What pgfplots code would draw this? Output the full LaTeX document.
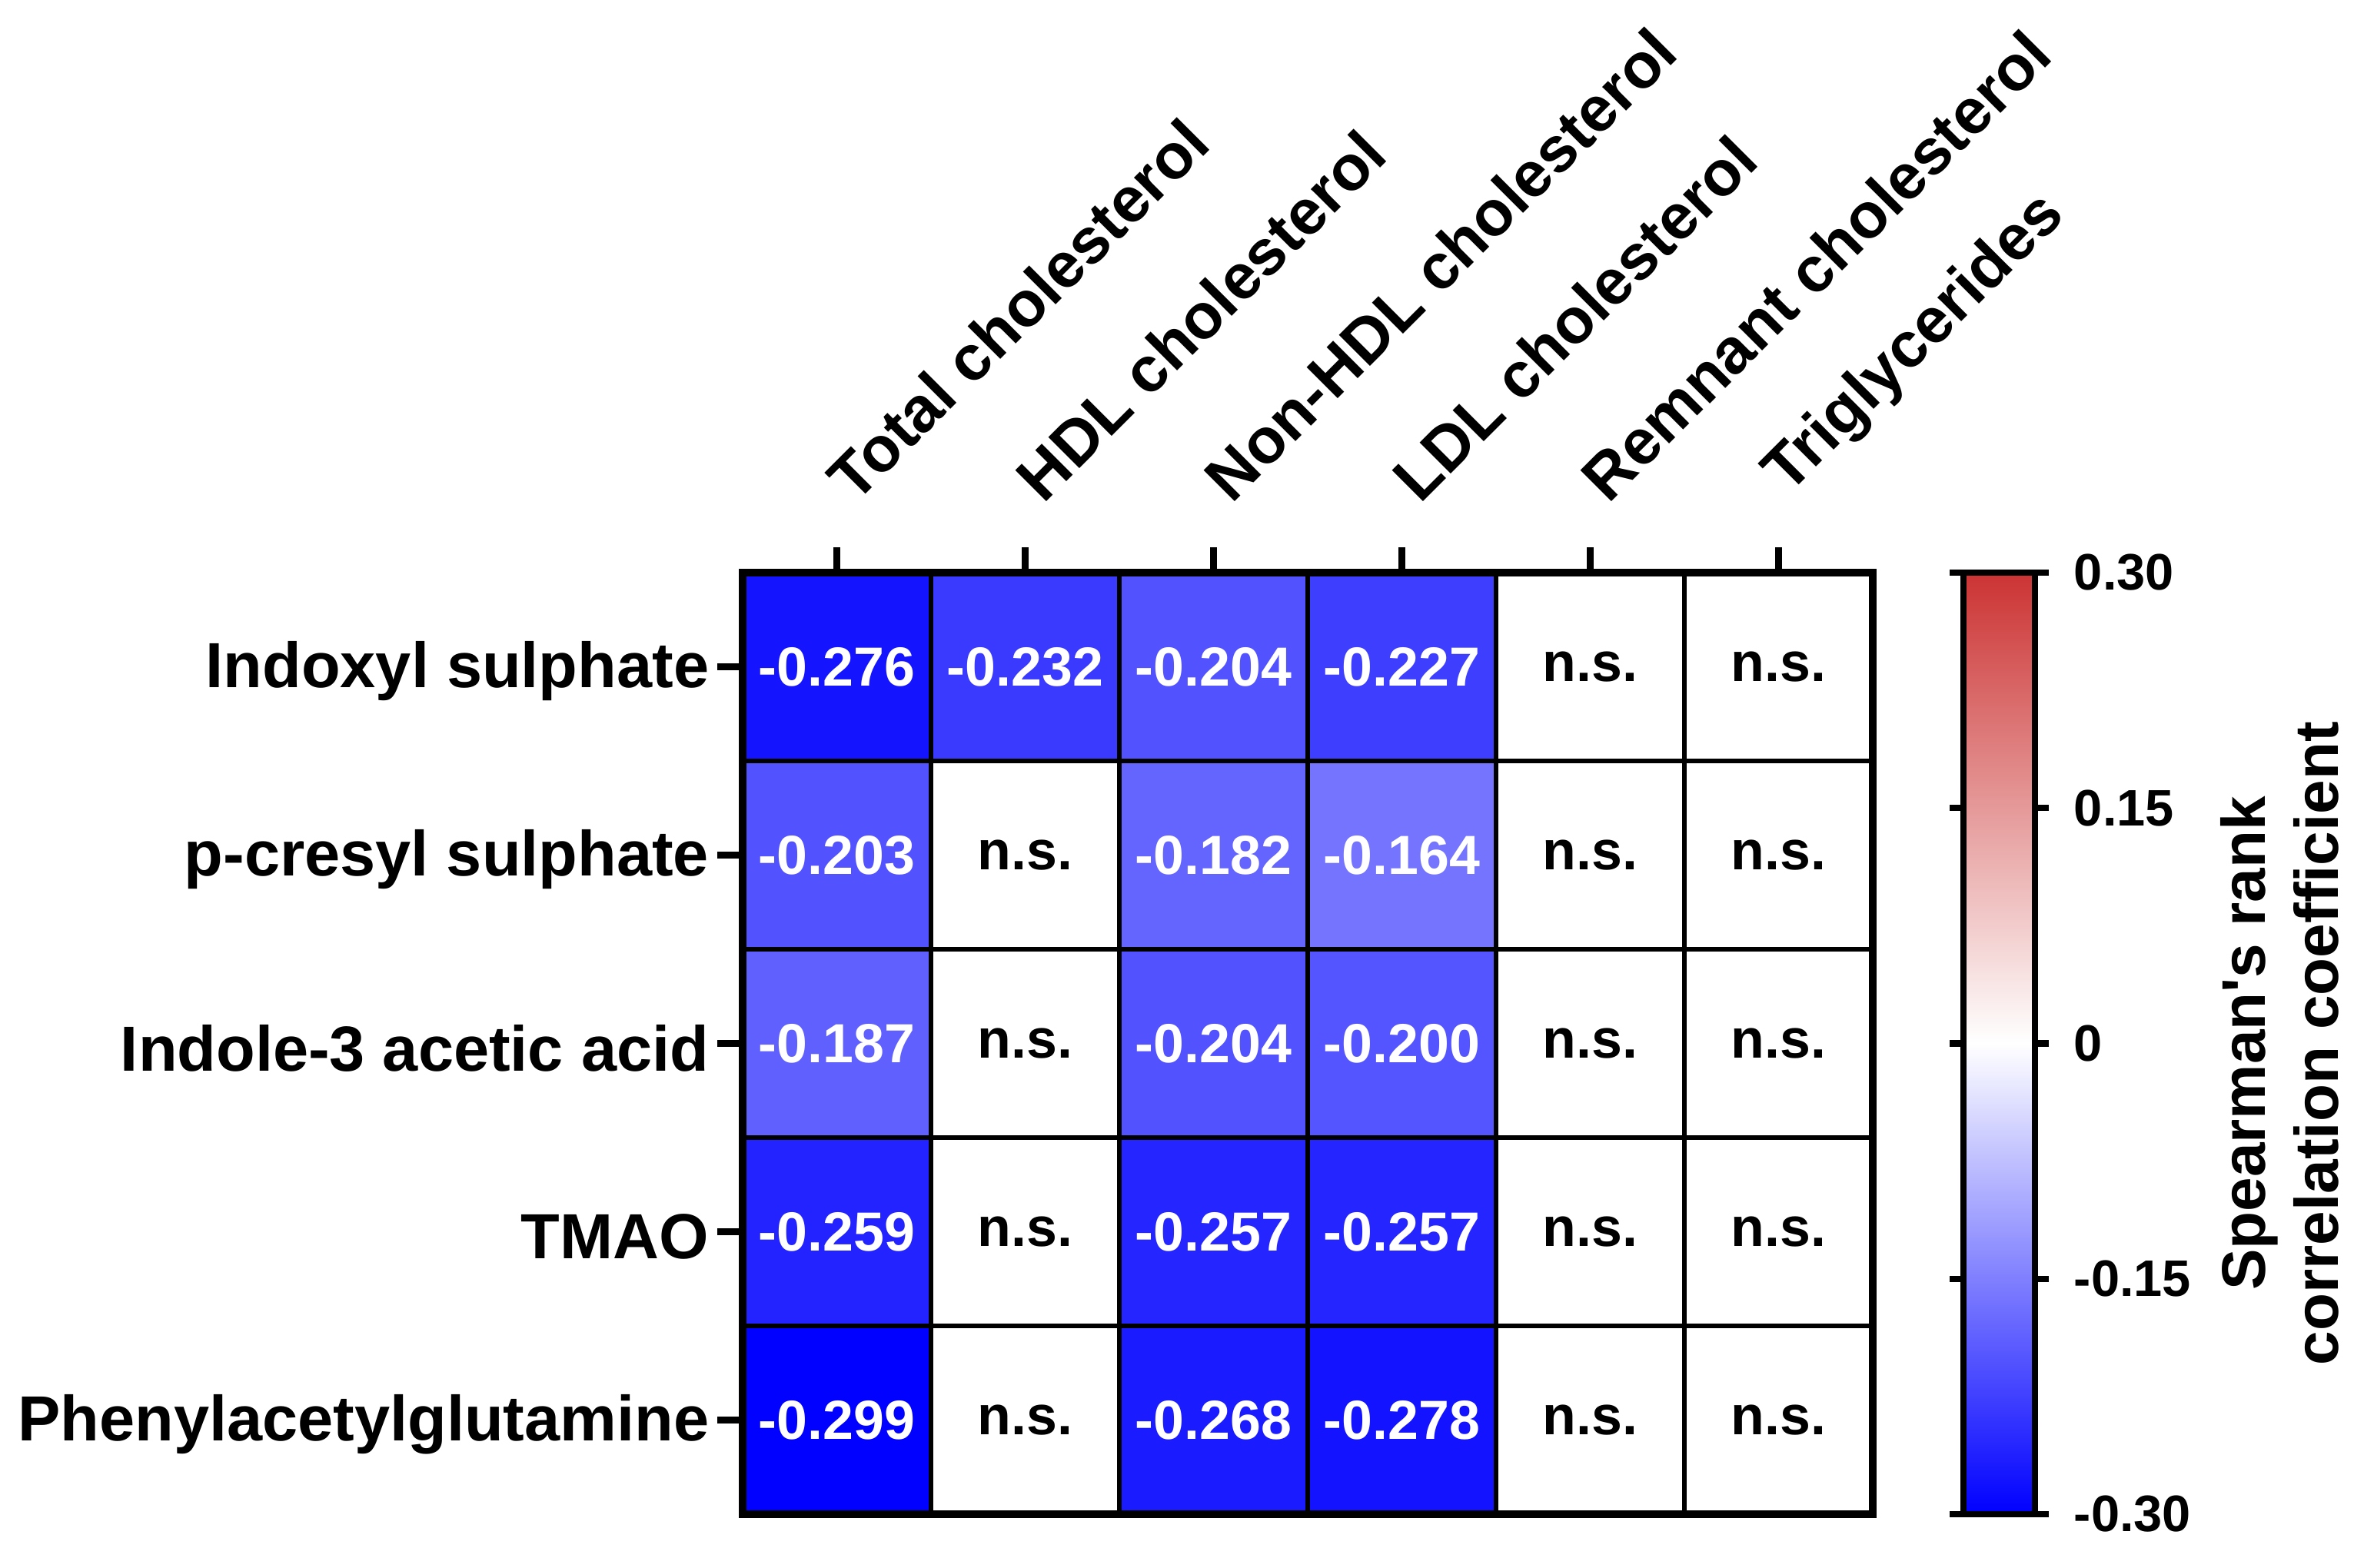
\documentclass[border=0pt]{standalone}
\usepackage{pgfplots}
\pgfplotsset{compat=1.18}
\usepackage{pgfplotstable}
\usepackage{fontspec}
\setmainfont{Liberation Sans}

% x = lipid column, y = metabolite row (0 = top); v = 0 for n.s.
\pgfplotstableread{
x y v lab
0 0 -0.276 -0.276
1 0 -0.232 -0.232
2 0 -0.204 -0.204
3 0 -0.227 -0.227
4 0 0 n.s.
5 0 0 n.s.
0 1 -0.203 -0.203
1 1 0 n.s.
2 1 -0.182 -0.182
3 1 -0.164 -0.164
4 1 0 n.s.
5 1 0 n.s.
0 2 -0.187 -0.187
1 2 0 n.s.
2 2 -0.204 -0.204
3 2 -0.200 -0.200
4 2 0 n.s.
5 2 0 n.s.
0 3 -0.259 -0.259
1 3 0 n.s.
2 3 -0.257 -0.257
3 3 -0.257 -0.257
4 3 0 n.s.
5 3 0 n.s.
0 4 -0.299 -0.299
1 4 0 n.s.
2 4 -0.268 -0.268
3 4 -0.278 -0.278
4 4 0 n.s.
5 4 0 n.s.
}\cells

\begin{document}
\begin{tikzpicture}
\path[use as bounding box] (0,0) rectangle (15.31,10.195);
\begin{axis}[
    at={(4.83cm,0.345cm)}, anchor=south west,
    scale only axis,
    width=7.35cm, height=6.125cm,
    xmin=-0.5, xmax=5.5, ymin=-0.5, ymax=4.5,
    y dir=reverse,
    xtick={0,...,5}, ytick={0,...,4},
    xticklabels={Total cholesterol, HDL cholesterol, Non-HDL cholesterol,
                 LDL cholesterol, Remnant cholesterol, Triglycerides},
    yticklabels={Indoxyl sulphate, p-cresyl sulphate, Indole-3 acetic acid,
                 TMAO, Phenylacetylglutamine},
    xtick pos=upper, xticklabel pos=upper, ytick pos=left,
    tick align=outside, major tick length=0.165cm,
    minor x tick num=1, minor y tick num=1, minor tick length=0pt,
    grid=minor, minor grid style={black, line width=0.9pt},
    axis on top,
    axis line style={line width=1.5pt},
    tick style={black, line width=1.2pt},
    xticklabel style={xshift=0.125cm, yshift=0.1cm, rotate=45, anchor=south west,
        font=\fontsize{11.8}{14}\selectfont\bfseries},
    yticklabel style={xshift=0.07cm, yshift=-0.03cm, anchor=east,
        font=\fontsize{11.8}{14}\selectfont\bfseries},
    colormap={bwr}{rgb255=(0,0,255) rgb255=(255,255,255) rgb255=(204,51,51)},
    point meta min=-0.3, point meta max=0.3,
    colorbar,
    colorbar style={
        at={(parent axis.north east)}, anchor=north west, xshift=0.29cm,
        width=0.465cm,
        ytick={-0.3,-0.15,0,0.15,0.3},
        yticklabels={-0.30,-0.15,0,0.15,0.30},
        ytick pos=both, yticklabel pos=right,
        tick align=outside, major tick length=0.09cm,
        axis line style={line width=1.2pt},
        tick style={black, line width=1.2pt},
        yticklabel style={xshift=0.04cm,
            font=\fontsize{9.5}{11}\selectfont\bfseries},
        ylabel={Spearman\textquotesingle s rank\\correlation coefficient},
        ylabel shift=-0.05cm,
        ylabel style={align=center,
            font=\fontsize{11.4}{13.5}\selectfont\bfseries},
    },
]
\addplot[matrix plot*, mesh/cols=6, point meta=explicit]
    table[x=x, y=y, meta=v] {\cells};
\addplot[draw=none, mark=none, nodes near coords, nodes near coords align={center},
    point meta=explicit symbolic,
    restrict expr to domain={\thisrow{v}}{-1:-0.01},
    every node near coord/.append style={text=white,
        font=\fontsize{10.2}{12}\selectfont\bfseries}]
    table[x=x, y=y, meta=lab] {\cells};
\addplot[draw=none, mark=none, nodes near coords, nodes near coords align={center},
    point meta=explicit symbolic,
    restrict expr to domain={\thisrow{v}}{-0.001:0.001},
    every node near coord/.append style={text=black,
        font=\fontsize{10.2}{12}\selectfont\bfseries}]
    table[x=x, y=y, meta=lab] {\cells};
\end{axis}
\end{tikzpicture}
\end{document}
